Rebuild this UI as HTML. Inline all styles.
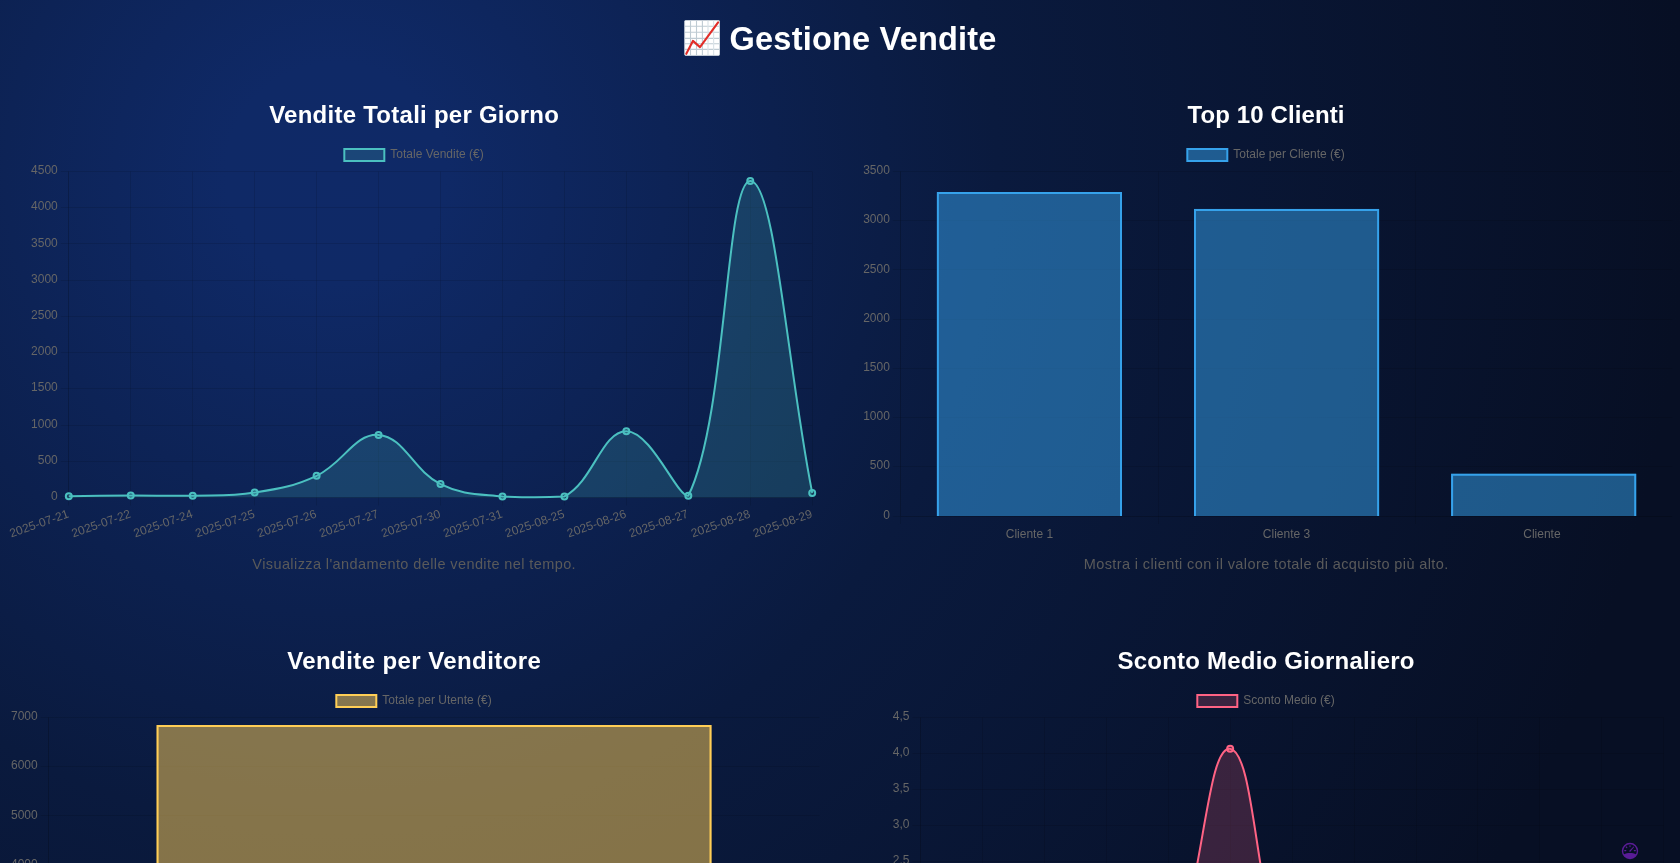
<!DOCTYPE html>
<html lang="it"><head><meta charset="utf-8"><title>Gestione Vendite</title>
<style>
html,body{margin:0;padding:0;}
body{width:1680px;height:863px;overflow:hidden;font-family:"Liberation Sans", sans-serif;
background:radial-gradient(circle 1350px at 336px 173px,#0f2967 0px,#0f2966 110px,#0a1a3e 660px,#070f24 1350px);
background-color:#070f24;}
svg{position:absolute;left:0;top:0;display:block;will-change:transform;font-family:"Liberation Sans", sans-serif;}
text{font-family:"Liberation Sans", sans-serif;}
</style></head><body>
<svg width="1680" height="863" viewBox="0 0 1680 863">
<line x1="60.8" x2="812.2" y1="171.5" y2="171.5" stroke="rgba(0,0,0,0.1)" stroke-width="1"/>
<text x="57.8" y="174.1" font-size="12" text-anchor="end" fill="#666666" font-weight="normal">4500</text>
<line x1="60.8" x2="812.2" y1="207.5" y2="207.5" stroke="rgba(0,0,0,0.1)" stroke-width="1"/>
<text x="57.8" y="210.32" font-size="12" text-anchor="end" fill="#666666" font-weight="normal">4000</text>
<line x1="60.8" x2="812.2" y1="243.5" y2="243.5" stroke="rgba(0,0,0,0.1)" stroke-width="1"/>
<text x="57.8" y="246.54" font-size="12" text-anchor="end" fill="#666666" font-weight="normal">3500</text>
<line x1="60.8" x2="812.2" y1="280.5" y2="280.5" stroke="rgba(0,0,0,0.1)" stroke-width="1"/>
<text x="57.8" y="282.77" font-size="12" text-anchor="end" fill="#666666" font-weight="normal">3000</text>
<line x1="60.8" x2="812.2" y1="316.5" y2="316.5" stroke="rgba(0,0,0,0.1)" stroke-width="1"/>
<text x="57.8" y="318.99" font-size="12" text-anchor="end" fill="#666666" font-weight="normal">2500</text>
<line x1="60.8" x2="812.2" y1="352.5" y2="352.5" stroke="rgba(0,0,0,0.1)" stroke-width="1"/>
<text x="57.8" y="355.21" font-size="12" text-anchor="end" fill="#666666" font-weight="normal">2000</text>
<line x1="60.8" x2="812.2" y1="388.5" y2="388.5" stroke="rgba(0,0,0,0.1)" stroke-width="1"/>
<text x="57.8" y="391.43" font-size="12" text-anchor="end" fill="#666666" font-weight="normal">1500</text>
<line x1="60.8" x2="812.2" y1="425.5" y2="425.5" stroke="rgba(0,0,0,0.1)" stroke-width="1"/>
<text x="57.8" y="427.66" font-size="12" text-anchor="end" fill="#666666" font-weight="normal">1000</text>
<line x1="60.8" x2="812.2" y1="461.5" y2="461.5" stroke="rgba(0,0,0,0.1)" stroke-width="1"/>
<text x="57.8" y="463.88" font-size="12" text-anchor="end" fill="#666666" font-weight="normal">500</text>
<line x1="60.8" x2="812.2" y1="497.5" y2="497.5" stroke="rgba(0,0,0,0.1)" stroke-width="1"/>
<text x="57.8" y="500.1" font-size="12" text-anchor="end" fill="#666666" font-weight="normal">0</text>
<line x1="68.5" x2="68.5" y1="171.5" y2="497.5" stroke="rgba(0,0,0,0.1)" stroke-width="1"/>
<line x1="68.8" x2="812.2" y1="497.5" y2="497.5" stroke="rgba(0,0,0,0.1)" stroke-width="1"/>
<line x1="68.5" x2="68.5" y1="171.5" y2="505.5" stroke="rgba(0,0,0,0.1)" stroke-width="1"/>
<line x1="130.5" x2="130.5" y1="171.5" y2="505.5" stroke="rgba(0,0,0,0.1)" stroke-width="1"/>
<line x1="192.5" x2="192.5" y1="171.5" y2="505.5" stroke="rgba(0,0,0,0.1)" stroke-width="1"/>
<line x1="254.5" x2="254.5" y1="171.5" y2="505.5" stroke="rgba(0,0,0,0.1)" stroke-width="1"/>
<line x1="316.5" x2="316.5" y1="171.5" y2="505.5" stroke="rgba(0,0,0,0.1)" stroke-width="1"/>
<line x1="378.5" x2="378.5" y1="171.5" y2="505.5" stroke="rgba(0,0,0,0.1)" stroke-width="1"/>
<line x1="440.5" x2="440.5" y1="171.5" y2="505.5" stroke="rgba(0,0,0,0.1)" stroke-width="1"/>
<line x1="502.5" x2="502.5" y1="171.5" y2="505.5" stroke="rgba(0,0,0,0.1)" stroke-width="1"/>
<line x1="564.5" x2="564.5" y1="171.5" y2="505.5" stroke="rgba(0,0,0,0.1)" stroke-width="1"/>
<line x1="626.5" x2="626.5" y1="171.5" y2="505.5" stroke="rgba(0,0,0,0.1)" stroke-width="1"/>
<line x1="688.5" x2="688.5" y1="171.5" y2="505.5" stroke="rgba(0,0,0,0.1)" stroke-width="1"/>
<line x1="750.5" x2="750.5" y1="171.5" y2="505.5" stroke="rgba(0,0,0,0.1)" stroke-width="1"/>
<line x1="812.5" x2="812.5" y1="171.5" y2="505.5" stroke="rgba(0,0,0,0.1)" stroke-width="1"/>
<path d="M68.8,496.2 C93.58,495.92 105.97,495.6 130.75,495.5 C155.53,495.4 167.94,496.28 192.7,495.7 C217.5,495.12 230.29,496.51 254.65,492.6 C279.85,488.55 293.62,486.5 316.6,475.8 C343.18,463.42 354.56,433.29 378.55,434.9 C404.12,436.61 412.94,470.42 440.5,484.1 C462.5,495.02 477.43,493.92 502.45,496.4 C526.99,497.5 544.19,497.5 564.4,496.4 C593.75,480.96 601.51,431.32 626.35,431.2 C651.07,431.08 677.49,497.5 688.3,495.8 C727.05,417.51 725.36,181.48 750.25,180.9 C774.92,180.32 787.42,368.1 812.2,492.9 L812.2,497.5 L68.8,497.5 Z" fill="rgba(75,192,192,0.2)"/>
<path d="M68.8,496.2 C93.58,495.92 105.97,495.6 130.75,495.5 C155.53,495.4 167.94,496.28 192.7,495.7 C217.5,495.12 230.29,496.51 254.65,492.6 C279.85,488.55 293.62,486.5 316.6,475.8 C343.18,463.42 354.56,433.29 378.55,434.9 C404.12,436.61 412.94,470.42 440.5,484.1 C462.5,495.02 477.43,493.92 502.45,496.4 C526.99,497.5 544.19,497.5 564.4,496.4 C593.75,480.96 601.51,431.32 626.35,431.2 C651.07,431.08 677.49,497.5 688.3,495.8 C727.05,417.51 725.36,181.48 750.25,180.9 C774.92,180.32 787.42,368.1 812.2,492.9" fill="none" stroke="rgb(75,192,192)" stroke-width="2" stroke-linejoin="round" stroke-linecap="butt"/>
<circle cx="68.8" cy="496.2" r="3" fill="rgba(75,192,192,0.2)" stroke="rgb(75,192,192)" stroke-width="2"/>
<circle cx="130.75" cy="495.5" r="3" fill="rgba(75,192,192,0.2)" stroke="rgb(75,192,192)" stroke-width="2"/>
<circle cx="192.7" cy="495.7" r="3" fill="rgba(75,192,192,0.2)" stroke="rgb(75,192,192)" stroke-width="2"/>
<circle cx="254.65" cy="492.6" r="3" fill="rgba(75,192,192,0.2)" stroke="rgb(75,192,192)" stroke-width="2"/>
<circle cx="316.6" cy="475.8" r="3" fill="rgba(75,192,192,0.2)" stroke="rgb(75,192,192)" stroke-width="2"/>
<circle cx="378.55" cy="434.9" r="3" fill="rgba(75,192,192,0.2)" stroke="rgb(75,192,192)" stroke-width="2"/>
<circle cx="440.5" cy="484.1" r="3" fill="rgba(75,192,192,0.2)" stroke="rgb(75,192,192)" stroke-width="2"/>
<circle cx="502.45" cy="496.4" r="3" fill="rgba(75,192,192,0.2)" stroke="rgb(75,192,192)" stroke-width="2"/>
<circle cx="564.4" cy="496.4" r="3" fill="rgba(75,192,192,0.2)" stroke="rgb(75,192,192)" stroke-width="2"/>
<circle cx="626.35" cy="431.2" r="3" fill="rgba(75,192,192,0.2)" stroke="rgb(75,192,192)" stroke-width="2"/>
<circle cx="688.3" cy="495.8" r="3" fill="rgba(75,192,192,0.2)" stroke="rgb(75,192,192)" stroke-width="2"/>
<circle cx="750.25" cy="180.9" r="3" fill="rgba(75,192,192,0.2)" stroke="rgb(75,192,192)" stroke-width="2"/>
<circle cx="812.2" cy="492.9" r="3" fill="rgba(75,192,192,0.2)" stroke="rgb(75,192,192)" stroke-width="2"/>
<text transform="translate(65.9,506.5) rotate(-19.2)" x="0" y="11.3" font-size="12" text-anchor="end" textLength="61.8" lengthAdjust="spacing" fill="#666666">2025-07-21</text>
<text transform="translate(127.85,506.5) rotate(-19.2)" x="0" y="11.3" font-size="12" text-anchor="end" textLength="61.8" lengthAdjust="spacing" fill="#666666">2025-07-22</text>
<text transform="translate(189.8,506.5) rotate(-19.2)" x="0" y="11.3" font-size="12" text-anchor="end" textLength="61.8" lengthAdjust="spacing" fill="#666666">2025-07-24</text>
<text transform="translate(251.75,506.5) rotate(-19.2)" x="0" y="11.3" font-size="12" text-anchor="end" textLength="61.8" lengthAdjust="spacing" fill="#666666">2025-07-25</text>
<text transform="translate(313.7,506.5) rotate(-19.2)" x="0" y="11.3" font-size="12" text-anchor="end" textLength="61.8" lengthAdjust="spacing" fill="#666666">2025-07-26</text>
<text transform="translate(375.65,506.5) rotate(-19.2)" x="0" y="11.3" font-size="12" text-anchor="end" textLength="61.8" lengthAdjust="spacing" fill="#666666">2025-07-27</text>
<text transform="translate(437.6,506.5) rotate(-19.2)" x="0" y="11.3" font-size="12" text-anchor="end" textLength="61.8" lengthAdjust="spacing" fill="#666666">2025-07-30</text>
<text transform="translate(499.55,506.5) rotate(-19.2)" x="0" y="11.3" font-size="12" text-anchor="end" textLength="61.8" lengthAdjust="spacing" fill="#666666">2025-07-31</text>
<text transform="translate(561.5,506.5) rotate(-19.2)" x="0" y="11.3" font-size="12" text-anchor="end" textLength="61.8" lengthAdjust="spacing" fill="#666666">2025-08-25</text>
<text transform="translate(623.45,506.5) rotate(-19.2)" x="0" y="11.3" font-size="12" text-anchor="end" textLength="61.8" lengthAdjust="spacing" fill="#666666">2025-08-26</text>
<text transform="translate(685.4,506.5) rotate(-19.2)" x="0" y="11.3" font-size="12" text-anchor="end" textLength="61.8" lengthAdjust="spacing" fill="#666666">2025-08-27</text>
<text transform="translate(747.35,506.5) rotate(-19.2)" x="0" y="11.3" font-size="12" text-anchor="end" textLength="61.8" lengthAdjust="spacing" fill="#666666">2025-08-28</text>
<text transform="translate(809.3,506.5) rotate(-19.2)" x="0" y="11.3" font-size="12" text-anchor="end" textLength="61.8" lengthAdjust="spacing" fill="#666666">2025-08-29</text>
<rect x="344.31" y="149" width="40" height="12" fill="rgba(75,192,192,0.2)" stroke="rgb(75,192,192)" stroke-width="2"/>
<text x="390.31" y="158.2" font-size="12" text-anchor="start" fill="#666666" font-weight="normal">Totale Vendite (€)</text>
<text x="414" y="122.7" font-size="24" text-anchor="middle" fill="#ffffff" font-weight="bold" textLength="289.7" lengthAdjust="spacing">Vendite Totali per Giorno</text>
<text x="414" y="569" font-size="14.5" text-anchor="middle" fill="#5a5a5a" font-weight="normal" textLength="323.3" lengthAdjust="spacing">Visualizza l'andamento delle vendite nel tempo.</text>
<line x1="892.9" x2="1672.2" y1="171.5" y2="171.5" stroke="rgba(0,0,0,0.1)" stroke-width="1"/>
<text x="889.9" y="174.1" font-size="12" text-anchor="end" fill="#666666" font-weight="normal">3500</text>
<line x1="892.9" x2="1672.2" y1="220.5" y2="220.5" stroke="rgba(0,0,0,0.1)" stroke-width="1"/>
<text x="889.9" y="223.31" font-size="12" text-anchor="end" fill="#666666" font-weight="normal">3000</text>
<line x1="892.9" x2="1672.2" y1="269.5" y2="269.5" stroke="rgba(0,0,0,0.1)" stroke-width="1"/>
<text x="889.9" y="272.53" font-size="12" text-anchor="end" fill="#666666" font-weight="normal">2500</text>
<line x1="892.9" x2="1672.2" y1="319.5" y2="319.5" stroke="rgba(0,0,0,0.1)" stroke-width="1"/>
<text x="889.9" y="321.74" font-size="12" text-anchor="end" fill="#666666" font-weight="normal">2000</text>
<line x1="892.9" x2="1672.2" y1="368.5" y2="368.5" stroke="rgba(0,0,0,0.1)" stroke-width="1"/>
<text x="889.9" y="370.96" font-size="12" text-anchor="end" fill="#666666" font-weight="normal">1500</text>
<line x1="892.9" x2="1672.2" y1="417.5" y2="417.5" stroke="rgba(0,0,0,0.1)" stroke-width="1"/>
<text x="889.9" y="420.17" font-size="12" text-anchor="end" fill="#666666" font-weight="normal">1000</text>
<line x1="892.9" x2="1672.2" y1="466.5" y2="466.5" stroke="rgba(0,0,0,0.1)" stroke-width="1"/>
<text x="889.9" y="469.39" font-size="12" text-anchor="end" fill="#666666" font-weight="normal">500</text>
<line x1="892.9" x2="1672.2" y1="516.5" y2="516.5" stroke="rgba(0,0,0,0.1)" stroke-width="1"/>
<text x="889.9" y="518.6" font-size="12" text-anchor="end" fill="#666666" font-weight="normal">0</text>
<line x1="900.5" x2="900.5" y1="171.5" y2="516" stroke="rgba(0,0,0,0.1)" stroke-width="1"/>
<line x1="900.9" x2="1672.2" y1="516.5" y2="516.5" stroke="rgba(0,0,0,0.1)" stroke-width="1"/>
<line x1="900.5" x2="900.5" y1="171.5" y2="524" stroke="rgba(0,0,0,0.1)" stroke-width="1"/>
<line x1="1158.5" x2="1158.5" y1="171.5" y2="524" stroke="rgba(0,0,0,0.1)" stroke-width="1"/>
<line x1="1415.5" x2="1415.5" y1="171.5" y2="524" stroke="rgba(0,0,0,0.1)" stroke-width="1"/>
<rect x="936.89" y="192.1" width="185.11" height="323.9" fill="rgba(54,162,235,0.5)"/>
<path d="M937.89,516 V193.1 H1121.01 V516" fill="none" stroke="rgb(54,162,235)" stroke-width="2"/>
<text x="1029.45" y="538" font-size="12" text-anchor="middle" fill="#666666" font-weight="normal">Cliente 1</text>
<rect x="1193.99" y="208.9" width="185.11" height="307.1" fill="rgba(54,162,235,0.5)"/>
<path d="M1194.99,516 V209.9 H1378.11 V516" fill="none" stroke="rgb(54,162,235)" stroke-width="2"/>
<text x="1286.55" y="538" font-size="12" text-anchor="middle" fill="#666666" font-weight="normal">Cliente 3</text>
<rect x="1451.09" y="473.8" width="185.11" height="42.2" fill="rgba(54,162,235,0.5)"/>
<path d="M1452.09,516 V474.8 H1635.21 V516" fill="none" stroke="rgb(54,162,235)" stroke-width="2"/>
<text x="1541.95" y="538" font-size="12" text-anchor="middle" fill="#666666" font-weight="normal">Cliente</text>
<rect x="1187.31" y="149" width="40" height="12" fill="rgba(54,162,235,0.5)" stroke="rgb(54,162,235)" stroke-width="2"/>
<text x="1233.31" y="158.2" font-size="12" text-anchor="start" fill="#666666" font-weight="normal">Totale per Cliente (€)</text>
<text x="1266" y="122.7" font-size="24" text-anchor="middle" fill="#ffffff" font-weight="bold" textLength="156.8" lengthAdjust="spacing">Top 10 Clienti</text>
<text x="1266" y="569" font-size="14.5" text-anchor="middle" fill="#5a5a5a" font-weight="normal" textLength="364.5" lengthAdjust="spacing">Mostra i clienti con il valore totale di acquisto più alto.</text>
<line x1="40.7" x2="819.4" y1="717.5" y2="717.5" stroke="rgba(0,0,0,0.1)" stroke-width="1"/>
<text x="37.7" y="720.1" font-size="12" text-anchor="end" fill="#666666" font-weight="normal">7000</text>
<line x1="40.7" x2="819.4" y1="766.5" y2="766.5" stroke="rgba(0,0,0,0.1)" stroke-width="1"/>
<text x="37.7" y="769.3" font-size="12" text-anchor="end" fill="#666666" font-weight="normal">6000</text>
<line x1="40.7" x2="819.4" y1="815.5" y2="815.5" stroke="rgba(0,0,0,0.1)" stroke-width="1"/>
<text x="37.7" y="818.5" font-size="12" text-anchor="end" fill="#666666" font-weight="normal">5000</text>
<line x1="40.7" x2="819.4" y1="865.5" y2="865.5" stroke="rgba(0,0,0,0.1)" stroke-width="1"/>
<text x="37.7" y="867.7" font-size="12" text-anchor="end" fill="#666666" font-weight="normal">4000</text>
<line x1="48.5" x2="48.5" y1="717.5" y2="900" stroke="rgba(0,0,0,0.1)" stroke-width="1"/>
<line x1="48.5" x2="48.5" y1="717.5" y2="900" stroke="rgba(0,0,0,0.1)" stroke-width="1"/>
<rect x="156.6" y="725.1" width="554.9" height="174.9" fill="rgba(255,206,86,0.5)"/>
<path d="M157.6,900 V726.1 H710.5 V900" fill="none" stroke="rgb(255,206,86)" stroke-width="2"/>
<rect x="336.31" y="695" width="40" height="12" fill="rgba(255,206,86,0.5)" stroke="rgb(255,206,86)" stroke-width="2"/>
<text x="382.31" y="704.2" font-size="12" text-anchor="start" fill="#666666" font-weight="normal">Totale per Utente (€)</text>
<text x="414" y="668.7" font-size="24" text-anchor="middle" fill="#ffffff" font-weight="bold" textLength="253.7" lengthAdjust="spacing">Vendite per Venditore</text>
<line x1="912.4" x2="1663.8" y1="717.5" y2="717.5" stroke="rgba(0,0,0,0.1)" stroke-width="1"/>
<text x="909.4" y="720.1" font-size="12" text-anchor="end" fill="#666666" font-weight="normal">4,5</text>
<line x1="912.4" x2="1663.8" y1="753.5" y2="753.5" stroke="rgba(0,0,0,0.1)" stroke-width="1"/>
<text x="909.4" y="756.15" font-size="12" text-anchor="end" fill="#666666" font-weight="normal">4,0</text>
<line x1="912.4" x2="1663.8" y1="789.5" y2="789.5" stroke="rgba(0,0,0,0.1)" stroke-width="1"/>
<text x="909.4" y="792.2" font-size="12" text-anchor="end" fill="#666666" font-weight="normal">3,5</text>
<line x1="912.4" x2="1663.8" y1="825.5" y2="825.5" stroke="rgba(0,0,0,0.1)" stroke-width="1"/>
<text x="909.4" y="828.25" font-size="12" text-anchor="end" fill="#666666" font-weight="normal">3,0</text>
<line x1="912.4" x2="1663.8" y1="861.5" y2="861.5" stroke="rgba(0,0,0,0.1)" stroke-width="1"/>
<text x="909.4" y="864.3" font-size="12" text-anchor="end" fill="#666666" font-weight="normal">2,5</text>
<line x1="920.5" x2="920.5" y1="717.5" y2="900" stroke="rgba(0,0,0,0.1)" stroke-width="1"/>
<line x1="920.5" x2="920.5" y1="717.5" y2="900" stroke="rgba(0,0,0,0.1)" stroke-width="1"/>
<line x1="982.5" x2="982.5" y1="717.5" y2="900" stroke="rgba(0,0,0,0.1)" stroke-width="1"/>
<line x1="1044.5" x2="1044.5" y1="717.5" y2="900" stroke="rgba(0,0,0,0.1)" stroke-width="1"/>
<line x1="1106.5" x2="1106.5" y1="717.5" y2="900" stroke="rgba(0,0,0,0.1)" stroke-width="1"/>
<line x1="1168.5" x2="1168.5" y1="717.5" y2="900" stroke="rgba(0,0,0,0.1)" stroke-width="1"/>
<line x1="1230.5" x2="1230.5" y1="717.5" y2="900" stroke="rgba(0,0,0,0.1)" stroke-width="1"/>
<line x1="1292.5" x2="1292.5" y1="717.5" y2="900" stroke="rgba(0,0,0,0.1)" stroke-width="1"/>
<line x1="1354.5" x2="1354.5" y1="717.5" y2="900" stroke="rgba(0,0,0,0.1)" stroke-width="1"/>
<line x1="1416.5" x2="1416.5" y1="717.5" y2="900" stroke="rgba(0,0,0,0.1)" stroke-width="1"/>
<line x1="1477.5" x2="1477.5" y1="717.5" y2="900" stroke="rgba(0,0,0,0.1)" stroke-width="1"/>
<line x1="1539.5" x2="1539.5" y1="717.5" y2="900" stroke="rgba(0,0,0,0.1)" stroke-width="1"/>
<line x1="1601.5" x2="1601.5" y1="717.5" y2="900" stroke="rgba(0,0,0,0.1)" stroke-width="1"/>
<line x1="1663.5" x2="1663.5" y1="717.5" y2="900" stroke="rgba(0,0,0,0.1)" stroke-width="1"/>
<path d="M920.4,1041.95 C945.18,1041.95 957.57,1041.95 982.35,1041.95 C1007.13,1041.95 1019.52,1041.95 1044.3,1041.95 C1069.08,1041.95 1086.3,1041.95 1106.25,1041.95 C1135.86,1025.71 1154.2,1007.12 1168.2,974 C1203.76,889.86 1206.36,744.96 1230.15,748.8 C1255.92,752.96 1254.26,904.47 1292.1,994 C1303.82,1021.73 1326.38,1031.24 1354.05,1041.95 C1375.94,1041.95 1391.22,1041.95 1416,1041.95 C1440.78,1041.95 1453.17,1041.95 1477.95,1041.95 C1502.73,1041.95 1515.12,1041.95 1539.9,1041.95 C1564.68,1041.95 1577.07,1041.95 1601.85,1041.95 C1626.63,1041.95 1639.02,1041.95 1663.8,1041.95 L1663.8,1041.95 L920.4,1041.95 Z" fill="rgba(255,99,132,0.2)"/>
<path d="M920.4,1041.95 C945.18,1041.95 957.57,1041.95 982.35,1041.95 C1007.13,1041.95 1019.52,1041.95 1044.3,1041.95 C1069.08,1041.95 1086.3,1041.95 1106.25,1041.95 C1135.86,1025.71 1154.2,1007.12 1168.2,974 C1203.76,889.86 1206.36,744.96 1230.15,748.8 C1255.92,752.96 1254.26,904.47 1292.1,994 C1303.82,1021.73 1326.38,1031.24 1354.05,1041.95 C1375.94,1041.95 1391.22,1041.95 1416,1041.95 C1440.78,1041.95 1453.17,1041.95 1477.95,1041.95 C1502.73,1041.95 1515.12,1041.95 1539.9,1041.95 C1564.68,1041.95 1577.07,1041.95 1601.85,1041.95 C1626.63,1041.95 1639.02,1041.95 1663.8,1041.95" fill="none" stroke="rgb(255,99,132)" stroke-width="2"/>
<circle cx="920.4" cy="1041.95" r="3" fill="rgba(255,99,132,0.2)" stroke="rgb(255,99,132)" stroke-width="2"/>
<circle cx="982.35" cy="1041.95" r="3" fill="rgba(255,99,132,0.2)" stroke="rgb(255,99,132)" stroke-width="2"/>
<circle cx="1044.3" cy="1041.95" r="3" fill="rgba(255,99,132,0.2)" stroke="rgb(255,99,132)" stroke-width="2"/>
<circle cx="1106.25" cy="1041.95" r="3" fill="rgba(255,99,132,0.2)" stroke="rgb(255,99,132)" stroke-width="2"/>
<circle cx="1168.2" cy="974" r="3" fill="rgba(255,99,132,0.2)" stroke="rgb(255,99,132)" stroke-width="2"/>
<circle cx="1230.15" cy="748.8" r="3" fill="rgba(255,99,132,0.2)" stroke="rgb(255,99,132)" stroke-width="2"/>
<circle cx="1292.1" cy="994" r="3" fill="rgba(255,99,132,0.2)" stroke="rgb(255,99,132)" stroke-width="2"/>
<circle cx="1354.05" cy="1041.95" r="3" fill="rgba(255,99,132,0.2)" stroke="rgb(255,99,132)" stroke-width="2"/>
<circle cx="1416" cy="1041.95" r="3" fill="rgba(255,99,132,0.2)" stroke="rgb(255,99,132)" stroke-width="2"/>
<circle cx="1477.95" cy="1041.95" r="3" fill="rgba(255,99,132,0.2)" stroke="rgb(255,99,132)" stroke-width="2"/>
<circle cx="1539.9" cy="1041.95" r="3" fill="rgba(255,99,132,0.2)" stroke="rgb(255,99,132)" stroke-width="2"/>
<circle cx="1601.85" cy="1041.95" r="3" fill="rgba(255,99,132,0.2)" stroke="rgb(255,99,132)" stroke-width="2"/>
<circle cx="1663.8" cy="1041.95" r="3" fill="rgba(255,99,132,0.2)" stroke="rgb(255,99,132)" stroke-width="2"/>
<rect x="1197.31" y="695" width="40" height="12" fill="rgba(255,99,132,0.2)" stroke="rgb(255,99,132)" stroke-width="2"/>
<text x="1243.31" y="704.2" font-size="12" text-anchor="start" fill="#666666" font-weight="normal">Sconto Medio (€)</text>
<text x="1266" y="668.7" font-size="24" text-anchor="middle" fill="#ffffff" font-weight="bold" textLength="297" lengthAdjust="spacing">Sconto Medio Giornaliero</text>
<text x="729.6" y="50" font-size="32.5" text-anchor="start" fill="#ffffff" font-weight="bold" textLength="266.8" lengthAdjust="spacing">Gestione Vendite</text>
<g transform="translate(684.4,20.2)">
<rect x="0.3" y="0.3" width="34.8" height="34.9" rx="0.8" fill="#ffffff" stroke="#d5dde2" stroke-width="0.8"/>
<path d="M6.1,0.6V34.9M12.1,0.6V34.9M18,0.6V34.9M0.6,6.1H34.8M0.6,12.1H34.8M0.6,18.2H34.8M0.6,23.5H34.8M0.6,29.2H34.8" stroke="#bfcbd3" stroke-width="1.1" fill="none"/>
<path d="M23.6,0.6V34.9M29.2,0.6V34.9" stroke="#dbe3e8" stroke-width="1.2" fill="none"/>
<path d="M1.9,33.6 L8.5,20.7 L15.6,26.9 L33.7,2.2" fill="none" stroke="#e22d28" stroke-width="2.1" stroke-linejoin="round" stroke-linecap="round"/>
</g>
<g transform="translate(1621.8,842.8) scale(1.025)" fill="#5a1c96">
<path fill-rule="evenodd" d="M8,0A8,8 0 1 0 8,16A8,8 0 1 0 8,0Z M8,1.4A6.6,6.6 0 0 1 14.6,8 c0,1.1 -0.3,2.2 -0.8,3.1 C12.2,10.3 10.2,9.9 8,9.9 S3.8,10.3 2.2,11.1 C1.7,10.2 1.4,9.1 1.4,8 A6.6,6.6 0 0 1 8,1.4Z"/>
<path d="M7.1,8.1 L11.5,3.6 L12.1,4.2 L8.1,9.0Z"/>
<rect x="7.45" y="2.3" width="1.1" height="2.0" rx="0.45"/>
<rect x="2.3" y="7.1" width="2.2" height="1.1" rx="0.45"/>
<rect x="11.6" y="7.1" width="2.2" height="1.1" rx="0.45"/>
<rect x="4.0" y="3.4" width="1.1" height="2.0" rx="0.45" transform="rotate(-42 4.55 4.4)"/>
</g>
</svg>
</body></html>
